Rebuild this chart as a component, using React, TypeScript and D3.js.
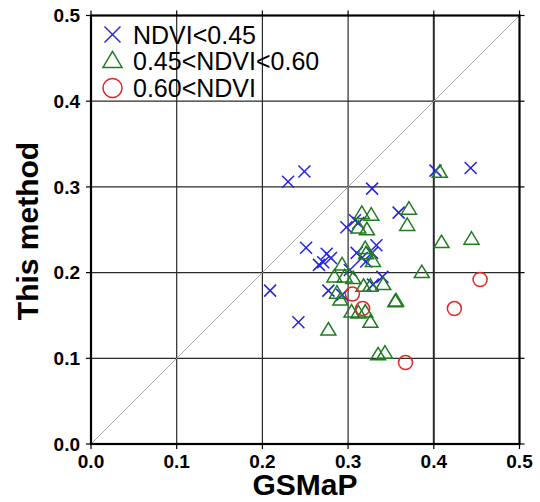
import React from "react";
import * as d3 from "d3";

// GSMaP (x) vs This method (y)
const lowX = [0.230, 0.249, 0.328, 0.402, 0.443, 0.359, 0.251, 0.275, 0.280, 0.271, 0.266, 0.209, 0.242, 0.277, 0.293, 0.298, 0.308, 0.312, 0.310, 0.316, 0.321, 0.328, 0.333, 0.302, 0.340, 0.329];
const lowY = [0.306, 0.318, 0.298, 0.319, 0.322, 0.270, 0.229, 0.222, 0.217, 0.212, 0.209, 0.179, 0.142, 0.179, 0.174, 0.253, 0.261, 0.258, 0.223, 0.217, 0.213, 0.223, 0.232, 0.203, 0.195, 0.186];

const midX = [0.407, 0.316, 0.327, 0.371, 0.369, 0.312, 0.322, 0.409, 0.444, 0.320, 0.329, 0.293, 0.386, 0.284, 0.296, 0.306, 0.318, 0.326, 0.341, 0.287, 0.291, 0.355, 0.356, 0.304, 0.320, 0.312, 0.326, 0.277, 0.335, 0.343, 0.321];
const midY = [0.317, 0.269, 0.267, 0.274, 0.255, 0.252, 0.250, 0.235, 0.239, 0.228, 0.213, 0.209, 0.200, 0.195, 0.195, 0.193, 0.184, 0.184, 0.186, 0.176, 0.168, 0.166, 0.167, 0.154, 0.154, 0.153, 0.142, 0.133, 0.104, 0.106, 0.222];

const highX = [0.305, 0.317, 0.454, 0.424, 0.367];
const highY = [0.175, 0.158, 0.192, 0.158, 0.095];

const ticks = [0.0, 0.1, 0.2, 0.3, 0.4, 0.5];
const tickLabels = ["0.0", "0.1", "0.2", "0.3", "0.4", "0.5"];
const legendLabels = ["NDVI<0.45", "0.45<NDVI<0.60", "0.60<NDVI"];

const BLUE = "#2424e0";
const GREEN = "#1e7d1e";
const RED = "#e02828";
const FONT = "'Liberation Sans', Arial, Helvetica, sans-serif";

const left = 91, right = 519.5, top = 15.5, bottom = 444;

function Cross({ x, y, s, sw }: { x: number; y: number; s: number; sw: number }) {
  return (
    <g stroke={BLUE} strokeWidth={sw} fill="none">
      <line x1={x - s} y1={y - s} x2={x + s} y2={y + s} />
      <line x1={x - s} y1={y + s} x2={x + s} y2={y - s} />
    </g>
  );
}

function Tri({ x, y, w, h, sw }: { x: number; y: number; w: number; h: number; sw: number }) {
  const pts = `${x},${y - h * 0.6} ${x - w / 2},${y + h * 0.4} ${x + w / 2},${y + h * 0.4}`;
  return <polygon points={pts} fill="none" stroke={GREEN} strokeWidth={sw} strokeLinejoin="miter" />;
}

export default function App() {
  const x = d3.scaleLinear().domain([0, 0.5]).range([left, right]);
  const y = d3.scaleLinear().domain([0, 0.5]).range([bottom, top]);

  const inner = ticks.slice(1, -1);

  return (
    <svg width={540} height={502} style={{ position: "absolute", left: 0, top: 0, background: "#fff" }} fontFamily={FONT}>
      <rect x={0} y={0} width={540} height={502} fill="#fff" />
      {/* grid */}
      {inner.map((t) => (
        <line key={"gx" + t} x1={x(t)} x2={x(t)} y1={top} y2={bottom} stroke="#2a2a2a" strokeWidth={t === 0.4 ? 2 : 1.2} />
      ))}
      {inner.map((t) => (
        <line key={"gy" + t} x1={left} x2={right} y1={y(t)} y2={y(t)} stroke="#2a2a2a" strokeWidth={1.2} />
      ))}
      {/* 1:1 line */}
      <line x1={x(0)} y1={y(0)} x2={x(0.5)} y2={y(0.5)} stroke="#a8a8a8" strokeWidth={1} />

      {/* ticks on all sides */}
      {ticks.map((t) => (
        <g key={"t" + t} stroke="#000" strokeWidth={1.2}>
          <line x1={x(t)} x2={x(t)} y1={bottom} y2={bottom + 5} />
          <line x1={x(t)} x2={x(t)} y1={top} y2={top - 5} />
          <line x1={left} x2={left - 5} y1={y(t)} y2={y(t)} />
          <line x1={right} x2={right + 5} y1={y(t)} y2={y(t)} />
        </g>
      ))}

      {/* data */}
      {lowX.map((v, i) => (
        <Cross key={"b" + i} x={x(v)} y={y(lowY[i])} s={6} sw={1.5} />
      ))}
      {midX.map((v, i) => (
        <Tri key={"g" + i} x={x(v)} y={y(midY[i])} w={15} h={12.5} sw={1.5} />
      ))}
      {highX.map((v, i) => (
        <circle key={"r" + i} cx={x(v)} cy={y(highY[i])} r={7} fill="none" stroke={RED} strokeWidth={1.5} />
      ))}

      {/* frame */}
      <rect x={left} y={top} width={right - left} height={bottom - top} fill="none" stroke="#000" strokeWidth={2.2} />

      {/* tick labels */}
      {ticks.map((t, i) => (
        <text key={"xl" + t} x={x(t)} y={468} textAnchor="middle" fontSize={19} fontWeight="bold">
          {tickLabels[i]}
        </text>
      ))}
      {ticks.map((t, i) => (
        <text key={"yl" + t} x={80} y={y(t)} dy="0.36em" textAnchor="end" fontSize={19} fontWeight="bold">
          {tickLabels[i]}
        </text>
      ))}

      {/* axis titles */}
      <text x={305} y={495} textAnchor="middle" fontSize={30} fontWeight="bold">GSMaP</text>
      <text transform="translate(38,231) rotate(-90)" textAnchor="middle" fontSize={30} fontWeight="bold">This method</text>

      {/* legend */}
      <Cross x={112.5} y={34.5} s={8} sw={1.5} />
      <Tri x={112.5} y={61} w={19} h={16} sw={1.5} />
      <circle cx={112.5} cy={88} r={9.5} fill="none" stroke={RED} strokeWidth={1.5} />
      {legendLabels.map((l, i) => (
        <text key={l} x={133} y={43.6 + i * 26.7} fontSize={25}>
          {l}
        </text>
      ))}
    </svg>
  );
}
